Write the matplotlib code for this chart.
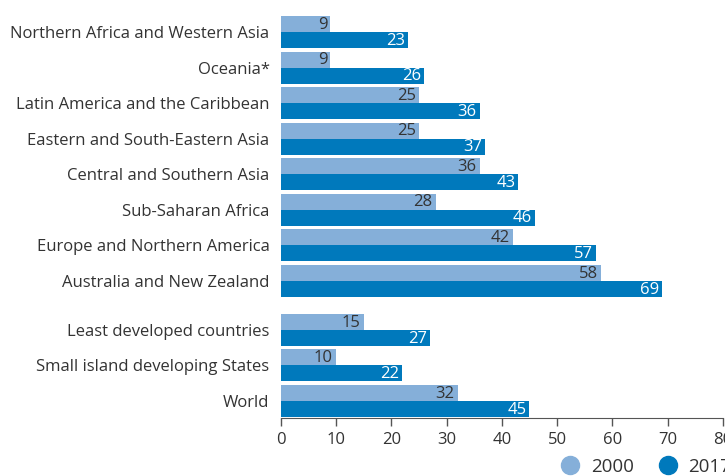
import matplotlib.pyplot as plt
from matplotlib.lines import Line2D
from matplotlib import transforms

plt.rcParams['font.family'] = ['Open Sans', 'DejaVu Sans']

regions = ["Northern Africa and Western Asia", "Oceania*",
           "Latin America and the Caribbean", "Eastern and South-Eastern Asia",
           "Central and Southern Asia", "Sub-Saharan Africa",
           "Europe and Northern America", "Australia and New Zealand",
           "Least developed countries", "Small island developing States", "World"]
values_2000 = [9, 9, 25, 25, 36, 28, 42, 58, 15, 10, 32]
values_2017 = [23, 26, 36, 37, 43, 46, 57, 69, 27, 22, 45]
years = ["2000", "2017"]

light = "#85afd9"
dark = "#0079bc"
text_col = "#333333"

# group centres, with a break after the regional groups
gap = 0.38
centres = [i if i < 8 else i + gap for i in range(len(regions))]
h = 0.45

fig = plt.figure(figsize=(7.25, 4.76), dpi=100)
ax = fig.add_axes([280.7 / 725, 1 - 418 / 476, (723 - 280.7) / 725, (418 - 16) / 476])

y_a = [c - h / 2 for c in centres]
y_b = [c + h / 2 for c in centres]
ax.barh(y_a, values_2000, height=h, color=light)
ax.barh(y_b, values_2017, height=h, color=dark)

off = transforms.offset_copy(ax.transData, fig=fig, x=-3, y=0, units='dots')
for y, v in zip(y_a, values_2000):
    ax.text(v, y + 0.02, str(v), transform=off, ha='right', va='center',
            fontsize=12, color=text_col)
for y, v in zip(y_b, values_2017):
    ax.text(v, y + 0.02, str(v), transform=off, ha='right', va='center',
            fontsize=12, color='white')

ax.set_yticks(centres)
ax.set_yticklabels(regions, fontsize=12, color=text_col)
ax.tick_params(axis='y', length=0, pad=8)
ax.set_ylim(centres[-1] + h + 0.03, centres[0] - h)

ax.set_xlim(0, 80)
ax.set_xticks(range(0, 81, 10))
ax.tick_params(axis='x', direction='out', length=6, width=1, color='#555555',
               labelsize=12, labelcolor=text_col, pad=4)

for s in ['top', 'right', 'left']:
    ax.spines[s].set_visible(False)
ax.spines['bottom'].set_color('#555555')

handles = [Line2D([], [], marker='o', linestyle='', markersize=13, color=c)
           for c in (light, dark)]
fig.legend(handles, years, loc='center left', bbox_to_anchor=(544 / 725, 1 - 467 / 476),
           ncol=2, frameon=False, fontsize=13.5, handletextpad=0.1,
           columnspacing=0.8, labelcolor=text_col, borderaxespad=0)

fig.savefig("out.png", dpi=100)
